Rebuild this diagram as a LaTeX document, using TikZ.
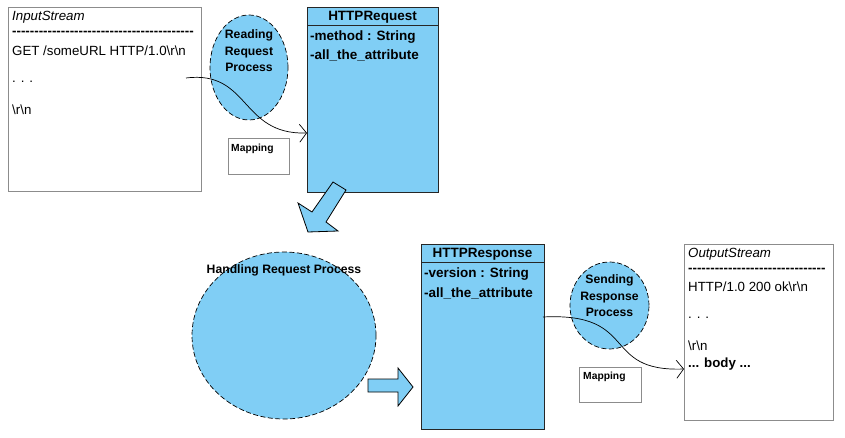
\documentclass[tikz,border=0pt]{standalone}
\usepackage{fontspec}
\setmainfont{Liberation Sans}
\usetikzlibrary{shapes.geometric,arrows.meta}
\definecolor{fillblue}{RGB}{128,206,245}
\newcommand\dashrun[1]{\foreach \i in {1,...,#1}{-\kern0pt}}
\newcommand\bs{\textbackslash}
\begin{document}
\begin{tikzpicture}[x=1pt,y=-1pt,
  streambox/.style={draw=black!45, line width=0.7pt, rectangle, inner sep=0pt, anchor=north west},
  umlbox/.style={draw=black!85, fill=fillblue, line width=0.9pt, rectangle, inner sep=0pt, anchor=north west},
  mapbox/.style={draw=black!45, line width=0.6pt, rectangle, inner sep=0pt, anchor=north west},
  proc/.style={ellipse, draw=black, dash pattern=on 5pt off 2.5pt, line width=0.7pt, fill=fillblue, inner sep=0pt},
  stxt/.style={inner sep=0pt, anchor=west, font=\fontsize{13.3}{15}\selectfont},
  utxt/.style={inner sep=0pt, anchor=west, font=\fontsize{13.5}{15}\selectfont\bfseries},
  utitle/.style={inner sep=0pt, font=\fontsize{13.5}{15}\selectfont\bfseries},
  plabel/.style={inner sep=0pt, align=center, font=\fontsize{12.2}{16.5}\selectfont\bfseries},
  mtxt/.style={inner sep=0pt, anchor=west, font=\fontsize{10.3}{12}\selectfont\bfseries},
  flow/.style={draw=black, line width=0.7pt, -{Straight Barb[length=7pt,width=18pt]}},
  blockarrow/.style={draw=black, line width=0.8pt, fill=fillblue, line join=miter}
]
\useasboundingbox (0,0) rectangle (845,438);

% Input stream
\node[streambox, minimum width=193pt, minimum height=184pt] (in) at (8,7) {};
\node[stxt] (inT) at (12,17) {\itshape InputStream};
\node[stxt] (inD) at (12,33) {\bfseries\dashrun{41}};
\node[stxt] (inL1) at (12,51) {GET /someURL HTTP/1.0\bs r\bs n};
\node[stxt] (inL2) at (12,82) {. . .};
\node[stxt] (inL3) at (12,110) {\bs r\bs n};

% Reading process
\node[proc, minimum width=78pt, minimum height=105pt] (readP) at (249,67.5) {};
\node[plabel] (readT) at (249,51) {Reading\\Request\\Process};
\node[mapbox, minimum width=61pt, minimum height=36pt] (map1) at (228,138) {};
\node[mtxt] (map1T) at (231,149) {Mapping};

% HTTPRequest
\node[umlbox, minimum width=131pt, minimum height=185pt] (req) at (307,7) {};
\coordinate (reqH1) at (307,25);
\coordinate (reqH2) at (438,25);
\draw[draw=black!85, line width=0.9pt] (reqH1) -- (reqH2);
\node[utitle] (reqT) at (372.5,17) {HTTPRequest};
\node[utxt] (reqA1) at (310,37) {-method : String};
\node[utxt] (reqA2) at (310,55) {-all\_the\_attribute};

\coordinate (c1s) at (186,78);
\coordinate (c1e) at (307,133);
\draw[flow] (c1s) .. controls (250,70) and (240,135) .. (c1e);

% block arrow down-left
\draw[blockarrow] (333,182) -- (346,190) -- (326,222) -- (338,231) -- (308,232) -- (298,203) -- (312,212) -- cycle;

% Handling process
\node[proc, minimum width=184pt, minimum height=167pt] (handP) at (284,335.5) {};
\node[plabel] (handT) at (284,270) {Handling Request Process};

% block arrow right
\draw[blockarrow] (368,379) -- (398,379) -- (398,368) -- (413,387) -- (398,406) -- (398,392) -- (368,392) -- cycle;

% HTTPResponse
\node[umlbox, minimum width=123pt, minimum height=185pt] (resp) at (421,244) {};
\coordinate (respH1) at (421,262);
\coordinate (respH2) at (544,262);
\draw[draw=black!85, line width=0.9pt] (respH1) -- (respH2);
\node[utitle] (respT) at (482.5,254) {HTTPResponse};
\node[utxt] (respA1) at (424,274) {-version : String};
\node[utxt] (respA2) at (424,293) {-all\_the\_attribute};

% Sending process
\node[proc, minimum width=79pt, minimum height=87pt] (sendP) at (609.5,305.5) {};
\node[plabel] (sendT) at (609.5,296) {Sending\\Response\\Process};
\node[mapbox, minimum width=62pt, minimum height=35pt] (map2) at (579,367) {};
\node[mtxt] (map2T) at (583,377) {Mapping};

% Output stream
\node[streambox, minimum width=149pt, minimum height=176pt] (out) at (684,244) {};
\node[stxt] (outT) at (688,254) {\itshape OutputStream};
\node[stxt] (outD) at (688,270) {\bfseries\dashrun{31}};
\node[stxt] (outL1) at (688,287) {HTTP/1.0 200 ok\bs r\bs n};
\node[stxt] (outL2) at (688,318) {. . .};
\node[stxt] (outL3) at (688,346) {\bs r\bs n};
\node[stxt] (outL4) at (688,364) {\bfseries ... body ...};

\coordinate (c2s) at (543,317);
\coordinate (c2e) at (684,369);
\draw[flow] (c2s) .. controls (640,312) and (600,372) .. (c2e);
\end{tikzpicture}
\end{document}
